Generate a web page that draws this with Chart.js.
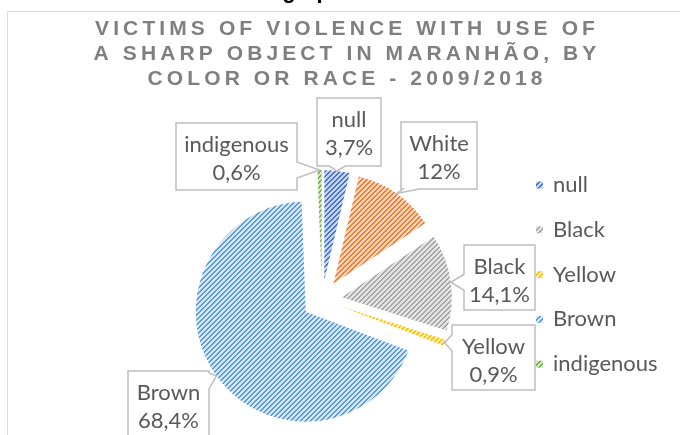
<!DOCTYPE html>
<html>
<head>
<meta charset="utf-8">
<script src="https://cdn.jsdelivr.net/npm/chart.js@4.4.1/dist/chart.umd.min.js"></script>
<style>
  html, body { margin: 0; padding: 0; background: #fff; }
  #wrap { width: 680px; height: 435px; position: relative; }
</style>
</head>
<body>
<div id="wrap"><canvas id="race-chart" width="680" height="435"></canvas></div>
<script>
// data
const categories = ['null', 'White', 'Black', 'Yellow', 'Brown', 'indigenous'];
const shares = [3.7, 12, 14.1, 0.9, 68.4, 0.6];
const legendCategories = ['null', 'Black', 'Yellow', 'Brown', 'indigenous'];
const titleLines = [
  'VICTIMS OF VIOLENCE WITH USE OF',
  'A SHARP OBJECT IN MARANHÃO, BY',
  'COLOR OR RACE - 2009/2018'
];

// look
const stripeColors = ['#4472C4', '#ED7D31', '#A5A5A5', '#FFC000', '#5B9BD5', '#70AD47'];
const tintColors = ['#C3D2EE', '#F9D3BA', '#E3E3E3', '#FFEBA8', '#D4E5F5', '#CFE5C0'];
const EXPLODE = 20;
// callout boxes: x, y, w, h, side the pointer leaves from
const calloutBoxes = [
  { x: 317, y: 98, w: 64, h: 68, side: 'bottom' },
  { x: 401, y: 122, w: 76, h: 67, side: 'bottom' },
  { x: 464, y: 245, w: 71, h: 65, side: 'left' },
  { x: 452, y: 325, w: 83, h: 65, side: 'left' },
  { x: 128, y: 371, w: 81, h: 70, side: 'right' },
  { x: 176, y: 123, w: 121, h: 67, side: 'right' }
];
const labelFont = '22px Lato';
const textColor = '#595959';

function makePattern(dark, light) {
  const c = document.createElement('canvas');
  c.width = 5; c.height = 5;
  const g = c.getContext('2d');
  g.fillStyle = light;
  g.fillRect(0, 0, 5, 5);
  g.fillStyle = dark;
  for (let x = 0; x < 5; x++) {
    for (let y = 0; y < 5; y++) {
      const k = (x + y) % 5;
      if (k === 0 || k === 1) g.fillRect(x, y, 1, 1);
    }
  }
  return g.createPattern(c, 'repeat');
}

const patterns = stripeColors.map((c, i) => makePattern(c, tintColors[i]));

function pct(v) {
  return String(v).replace('.', ',') + '%';
}

function drawCallout(ctx, b, tip, lines) {
  const hb = 8;
  const { x, y, w, h } = b;
  const clamp = (v, lo, hi) => Math.max(lo, Math.min(hi, v));
  ctx.beginPath();
  ctx.moveTo(x, y);
  if (b.side === 'top') {
    const c = clamp(tip.x, x + hb + 2, x + w - hb - 2);
    ctx.lineTo(c - hb, y); ctx.lineTo(tip.x, tip.y); ctx.lineTo(c + hb, y);
  }
  ctx.lineTo(x + w, y);
  if (b.side === 'right') {
    const c = clamp(tip.y, y + hb + 2, y + h - hb - 2);
    ctx.lineTo(x + w, c - hb); ctx.lineTo(tip.x, tip.y); ctx.lineTo(x + w, c + hb);
  }
  ctx.lineTo(x + w, y + h);
  if (b.side === 'bottom') {
    const c = clamp(tip.x, x + hb + 2, x + w - hb - 2);
    ctx.lineTo(c + hb, y + h); ctx.lineTo(tip.x, tip.y); ctx.lineTo(c - hb, y + h);
  }
  ctx.lineTo(x, y + h);
  if (b.side === 'left') {
    const c = clamp(tip.y, y + hb + 2, y + h - hb - 2);
    ctx.lineTo(x, c + hb); ctx.lineTo(tip.x, tip.y); ctx.lineTo(x, c - hb);
  }
  ctx.closePath();
  ctx.fillStyle = '#fff';
  ctx.fill();
  ctx.lineWidth = 1.5;
  ctx.strokeStyle = '#BFBFBF';
  ctx.stroke();

  ctx.fillStyle = textColor;
  ctx.font = labelFont;
  ctx.textAlign = 'center';
  ctx.textBaseline = 'alphabetic';
  ctx.fillText(lines[0], x + w / 2, y + 29);
  ctx.fillText(lines[1], x + w / 2, y + 57);
}

function spacedText(ctx, text, cx, baseline, spacing) {
  let total = 0;
  for (const ch of text) total += ctx.measureText(ch).width + spacing;
  total -= spacing;
  let x = cx - total / 2;
  for (const ch of text) {
    ctx.fillText(ch, x, baseline);
    x += ctx.measureText(ch).width + spacing;
  }
}

const explodePlugin = {
  id: 'explode',
  afterDatasetUpdate(chart, args) {
    args.meta.data.forEach(arc => {
      const mid = (arc.startAngle + arc.endAngle) / 2;
      arc.x += Math.cos(mid) * EXPLODE;
      arc.y += Math.sin(mid) * EXPLODE;
    });
  }
};

const decorPlugin = {
  id: 'decor',
  beforeDraw(chart) {
    const ctx = chart.ctx;
    ctx.save();
    // cut-off heading above the chart box
    ctx.fillStyle = '#000';
    ctx.font = 'bold 22px "Liberation Sans"';
    ctx.textAlign = 'left';
    ctx.fillText('Infographic', 242, -2);
    // chart box border
    ctx.strokeStyle = '#D9D9D9';
    ctx.lineWidth = 1;
    ctx.beginPath();
    ctx.moveTo(7.5, 440);
    ctx.lineTo(7.5, 11.5);
    ctx.lineTo(690, 11.5);
    ctx.stroke();
    // title
    ctx.fillStyle = '#7F7F7F';
    ctx.font = 'bold 21px "Liberation Sans"';
    ctx.textAlign = 'left';
    ctx.textBaseline = 'alphabetic';
    const baselines = [35, 60, 85];
    titleLines.forEach((t, i) => spacedText(ctx, t, 345, baselines[i], 4.1));
    ctx.restore();
  },
  afterDraw(chart) {
    const ctx = chart.ctx;
    const arcs = chart.getDatasetMeta(0).data;
    ctx.save();
    arcs.forEach((arc, i) => {
      const mid = (arc.startAngle + arc.endAngle) / 2;
      const tip = {
        x: arc.x + Math.cos(mid) * arc.outerRadius,
        y: arc.y + Math.sin(mid) * arc.outerRadius
      };
      drawCallout(ctx, calloutBoxes[i], tip, [categories[i], pct(shares[i])]);
    });

    // legend
    ctx.font = labelFont;
    ctx.textAlign = 'left';
    ctx.textBaseline = 'middle';
    legendCategories.forEach((name, j) => {
      const i = categories.indexOf(name);
      const cy = 185 + j * 44.8;
      ctx.fillStyle = patterns[i];
      ctx.fillRect(536, cy - 3.5, 7, 7);
      ctx.fillStyle = textColor;
      ctx.fillText(name, 553, cy);
    });
    ctx.restore();
  }
};

new Chart(document.getElementById('race-chart'), {
  type: 'pie',
  data: {
    labels: categories,
    datasets: [{
      data: shares,
      backgroundColor: patterns,
      borderWidth: 0
    }]
  },
  options: {
    responsive: false,
    animation: false,
    events: [],
    radius: 110,
    layout: { padding: { top: 180, bottom: 15, left: 100, right: 136 } },
    plugins: {
      legend: { display: false },
      tooltip: { enabled: false },
      title: { display: false }
    }
  },
  plugins: [explodePlugin, decorPlugin]
});
</script>
</body>
</html>
